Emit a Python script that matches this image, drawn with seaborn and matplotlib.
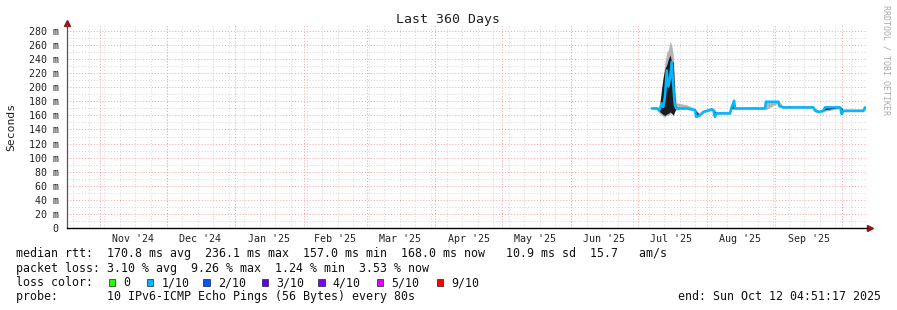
import numpy as np
import pandas as pd
import matplotlib
matplotlib.use("Agg")
import matplotlib.pyplot as plt
import seaborn as sns
from matplotlib.patches import Rectangle

sns.set_theme(style="white")
plt.rcParams["font.family"] = ["DejaVu Sans Mono"]

START = pd.Timestamp("2024-10-17 04:51:17")
END = pd.Timestamp("2025-10-12 04:51:17")

# ---- data (days after START, values in ms) ----
day_offset = [263.1, 265.4, 266.5, 267.6, 268.3, 269.1, 269.9, 270.6, 271.4, 272.1,
              272.8, 273.5, 274.1, 278.9, 282.6, 283.1, 284.9, 286.3, 290.1, 290.8,
              291.5, 292.4, 298.4, 298.9, 300.2, 300.6, 314.1, 314.5, 320.1, 320.5,
              322.3, 335.8, 336.6, 338.5, 340.3, 341.1, 347.9, 348.6, 349.3, 358.4, 359.1]
median_ms = [170, 170, 167, 177, 172, 187, 224, 201, 213, 236,
             203, 175, 170, 170, 167.7, 158, 160.6, 165, 168.7, 168,
             158, 163, 163, 170, 181, 170, 170, 179.5, 179.5, 173.4,
             171.5, 171.5, 166.7, 165, 166.7, 171.5, 171.5, 162, 166.7, 166.7, 171.5]
smoke_lo_ms = [168.5, 168.5, 163, 160, 159, 158, 160, 160, 162, 163,
               162, 166, 168, 168.5, 166, 157, 159, 163.5, 167, 166.5,
               157, 161.5, 161.5, 168.5, 168.5, 168.5, 168.5, 168, 178, 172,
               170, 170, 165, 163.5, 165, 166, 170, 160, 165, 165, 168]
smoke_hi_ms = [171.5, 172, 172, 185, 212, 236, 250, 253, 265, 260,
               246, 203, 178, 175, 170, 168, 162, 166.5, 170, 169.5,
               168, 164.5, 164.5, 171.5, 183, 171.5, 171.5, 181, 181, 180,
               173, 173, 171, 166.5, 168, 173, 173, 172, 168, 168, 173]
core_lo_ms = [170, 170, 166, 163, 161, 160, 162, 163, 165, 163,
              160, 166, 170, 170, 167.7, 158, 160.6, 165, 168.7, 168,
              158, 163, 163, 170, 170, 170, 170, 179.5, 179.5, 173.4,
              171.5, 171.5, 166.7, 165, 166.7, 168, 171.5, 162, 166.7, 166.7, 170]
core_hi_ms = [170, 170, 169, 199, 215, 227, 232, 240, 246, 236,
              236, 189, 170, 170, 167.7, 166, 160.6, 165, 168.7, 168,
              166, 163, 163, 170, 181, 170, 170, 179.5, 179.5, 173.4,
              171.5, 171.5, 168, 165, 166.7, 171.5, 171.5, 171, 166.7, 166.7, 171.5]

month_starts = ["2024-11-01", "2024-12-01", "2025-01-01", "2025-02-01", "2025-03-01",
                "2025-04-01", "2025-05-01", "2025-06-01", "2025-07-01", "2025-08-01",
                "2025-09-01", "2025-10-01"]
month_label_pos = ["2024-11-16", "2024-12-16", "2025-01-16", "2025-02-15", "2025-03-16",
                   "2025-04-16", "2025-05-16", "2025-06-16", "2025-07-16", "2025-08-16",
                   "2025-09-16"]
month_labels = ["Nov '24", "Dec '24", "Jan '25", "Feb '25", "Mar '25", "Apr '25",
                "May '25", "Jun '25", "Jul '25", "Aug '25", "Sep '25"]
y_ticks = list(range(0, 281, 20))
y_tick_labels = ["0"] + [f"{v} m" for v in y_ticks[1:]]
loss_labels = ["0", "1/10", "2/10", "3/10", "4/10", "5/10", "9/10"]
loss_colors = ["#26ff00", "#00b8ff", "#0059ff", "#5e00ff", "#7e00ff", "#dd00ff", "#ff0000"]

df = pd.DataFrame({
    "time": START + pd.to_timedelta(day_offset, unit="D"),
    "median": median_ms,
    "lo": smoke_lo_ms, "hi": smoke_hi_ms,
    "clo": core_lo_ms, "chi": core_hi_ms,
})

W, H = 897, 310
fig = plt.figure(figsize=(W / 100, H / 100), dpi=100, facecolor="white")
ax = fig.add_axes([67 / W, (H - 228) / H, 800 / W, (228 - 25) / H])
ax.set_facecolor("white")

# grid
ax.set_xlim(START, END)
ax.set_ylim(0, 288.5)
dot = (0, (1, 2))
for v in range(10, 289, 10):
    if v % 20:
        ax.axhline(v, color="#d6d6d6", lw=0.7, ls=dot, zorder=0)
for d in pd.date_range("2024-10-20", END, freq="7D"):
    ax.axvline(d, color="#d6d6d6", lw=0.7, ls=dot, zorder=0)
for v in y_ticks[1:]:
    ax.axhline(v, color="#f4a0a0", lw=0.7, ls=dot, zorder=0.5)
for d in month_starts:
    ax.axvline(pd.Timestamp(d), color="#f4a0a0", lw=0.7, ls=dot, zorder=0.5)

# smoke + median
ax.fill_between(df["time"], df["lo"], df["hi"], color="#b4b4b4", lw=0, zorder=2)
ax.fill_between(df["time"], df["clo"], df["chi"], color="#1c1c1c", lw=0, zorder=3)
sns.lineplot(data=df, x="time", y="median", color="#00b8ff", lw=1.8, ax=ax, zorder=4)

# axes styling
for s in ["top", "right"]:
    ax.spines[s].set_visible(False)
ax.spines["left"].set_color("#555555")
ax.spines["left"].set_linewidth(0.9)
ax.spines["bottom"].set_color("black")
ax.spines["bottom"].set_linewidth(1.0)
ax.set_yticks(y_ticks)
ax.set_yticklabels(y_tick_labels)
ax.set_yticks(list(range(10, 281, 20)), minor=True)
ax.tick_params(axis="y", which="major", length=3, width=0.8, color="#555555",
               direction="out", pad=3, labelsize=7.2, labelcolor="#222222")
ax.tick_params(axis="y", which="minor", length=1.5, width=0.6, color="#777777", direction="out")
ax.set_xticks([pd.Timestamp(d) for d in month_label_pos])
ax.set_xticklabels(month_labels)
ax.tick_params(axis="x", which="major", length=0, pad=4.5, labelsize=7.2, labelcolor="#222222")
ax.set_xlabel("")
ax.set_ylabel("")
ax.grid(False)

# axis arrows
ax.plot([1.004], [0], marker=">", ms=4, color="#8b1a1a", transform=ax.transAxes, clip_on=False)
ax.plot([0], [1.01], marker="^", ms=4, color="#8b1a1a", transform=ax.transAxes, clip_on=False)


def fy(y):
    return 1 - y / H


fig.text(448 / W, fy(19), "Last 360 Days", ha="center", va="center", fontsize=9.5, color="#222222")
fig.text(11 / W, fy(127), "Seconds", ha="center", va="center", rotation=90, fontsize=8.2, color="#222222")
fig.text(886 / W, fy(5), "RRDTOOL / TOBI OETIKER", ha="center", va="top", rotation=270,
         fontsize=6, color="#aaaaaa")

fs = 8.4
fig.text(16 / W, fy(254), "median rtt:  170.8 ms avg  236.1 ms max  157.0 ms min  168.0 ms now   10.9 ms sd  15.7   am/s",
         ha="left", va="center", fontsize=fs, color="#111111")
fig.text(16 / W, fy(268.5), "packet loss: 3.10 % avg  9.26 % max  1.24 % min  3.53 % now",
         ha="left", va="center", fontsize=fs, color="#111111")
fig.text(16 / W, fy(282.5), "loss color:", ha="left", va="center", fontsize=fs, color="#111111")
box_x = [108.7, 146.7, 203.3, 261.7, 318.3, 376.7, 436.7]
for bx, lab, col in zip(box_x, loss_labels, loss_colors):
    fig.patches.append(Rectangle((bx / W, fy(286)), 6.5 / W, 7 / H, transform=fig.transFigure,
                                 facecolor=col, edgecolor="#222222", lw=0.5))
    fig.text((bx + 14.5) / W, fy(282.5), lab, ha="left", va="center", fontsize=fs, color="#111111")
fig.text(16 / W, fy(296.5), "probe:       10 IPv6-ICMP Echo Pings (56 Bytes) every 80s",
         ha="left", va="center", fontsize=fs, color="#111111")
fig.text(881 / W, fy(296.5), "end: Sun Oct 12 04:51:17 2025", ha="right", va="center",
         fontsize=fs, color="#111111")

fig.savefig("out.png", dpi=100, facecolor="white")
